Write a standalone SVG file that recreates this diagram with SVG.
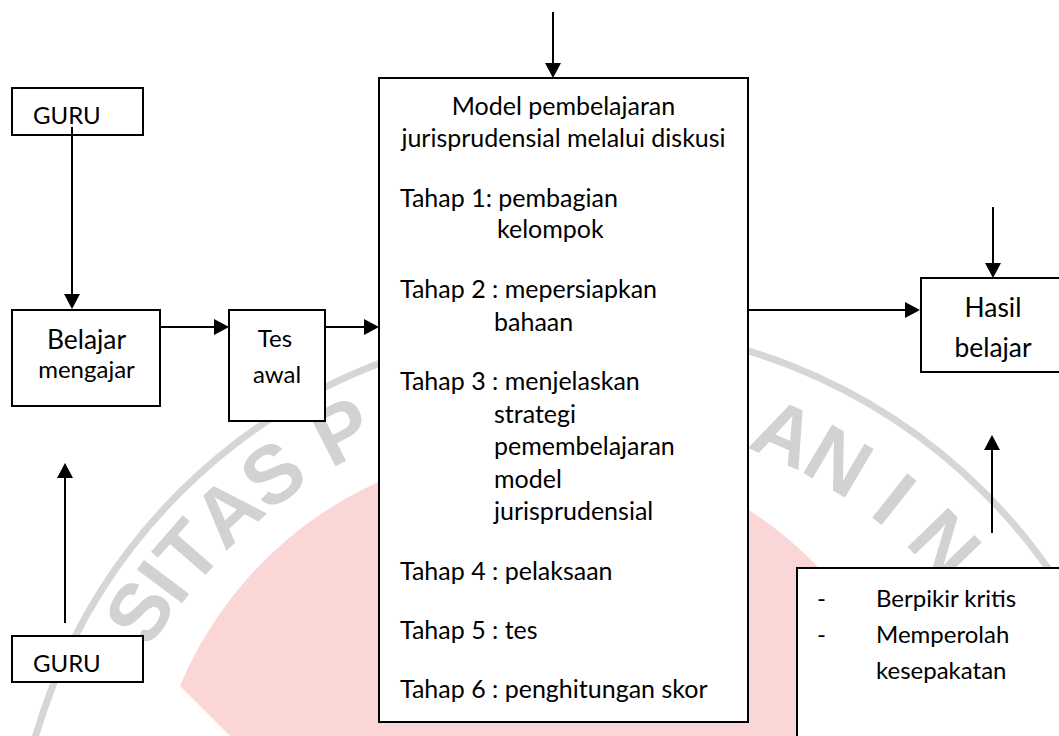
<svg xmlns="http://www.w3.org/2000/svg" width="1059" height="736" viewBox="0 0 1059 736">
<style>
.box{fill:#fff;stroke:#000;stroke-width:2}
.t{font-family:Lato,"Liberation Sans",sans-serif;font-size:24px;fill:#000}
.m{font-size:25px}
.tl{font-size:26.4px}
.c{text-anchor:middle}
.wm{font-family:"Liberation Sans",sans-serif;font-weight:bold;font-size:82px;fill:#d2d2d2;text-anchor:middle}
.cn{stroke:#000;stroke-width:2;fill:none;marker-end:url(#ah)}
</style>
<defs>
<marker id="ah" viewBox="0 0 15 16" markerWidth="15" markerHeight="16" refX="9" refY="8" orient="auto" markerUnits="userSpaceOnUse"><path d="M0,0 L15,8 L0,16 z" fill="#000"/></marker>
</defs>
<rect width="1059" height="736" fill="#fff"/>
<g id="watermark">
<path d="M180,686 A388,388 0 0 1 913,736 L230,736 Z" fill="#fbd6d6"/>
<circle cx="582" cy="895" r="569" fill="none" stroke="#d6d6d6" stroke-width="7"/>
<text class="wm" transform="translate(163.5,626.8) rotate(-57.6)">S</text>
<text class="wm" transform="translate(185.6,598.6) rotate(-53.1)">I</text>
<text class="wm" transform="translate(209.4,570.6) rotate(-48.9)">T</text>
<text class="wm" transform="translate(246.7,532.2) rotate(-42.7)">A</text>
<text class="wm" transform="translate(289.5,496.9) rotate(-36.3)">S</text>
<text class="wm" transform="translate(355.1,456.2) rotate(-27.3)">P</text>
<text class="wm" transform="translate(773.3,459.2) rotate(23.7)">A</text>
<text class="wm" transform="translate(824.3,485.3) rotate(30.6)">N</text>
<text class="wm" transform="translate(877,521.4) rotate(38.3)">I</text>
<text class="wm" transform="translate(924.4,564.3) rotate(46)">N</text>
</g>
<g id="guru-top"><rect class="box" x="12" y="88" width="131" height="47"/><text class="t" x="33" y="124">GURU</text></g>
<g id="guru-bottom"><rect class="box" x="12" y="636" width="131" height="46"/><text class="t" x="33" y="672">GURU</text></g>
<g id="belajar-mengajar"><rect class="box" x="12" y="310" width="148" height="96"/><text class="t tl c" x="86.5" y="349">Belajar</text><text class="t c" x="86.5" y="378">mengajar</text></g>
<g id="tes-awal"><rect class="box" x="229" y="310" width="96" height="111"/><text class="t c" x="275" y="347">Tes</text><text class="t c" x="277" y="383">awal</text></g>
<g id="model"><rect class="box" x="379" y="78" width="369" height="644"/>
<text class="t m c" x="563.5" y="115">Model pembelajaran</text>
<text class="t m c" x="563.5" y="147">jurisprudensial melalui diskusi</text>
<text class="t m" x="400" y="207">Tahap 1: pembagian</text>
<text class="t m" x="497" y="238">kelompok</text>
<text class="t m" x="400" y="298">Tahap 2 : mepersiapkan</text>
<text class="t m" x="494" y="331">bahaan</text>
<text class="t m" x="400" y="390">Tahap 3 : menjelaskan</text>
<text class="t m" x="494" y="423">strategi</text>
<text class="t m" x="494" y="455">pemembelajaran</text>
<text class="t m" x="494" y="488">model</text>
<text class="t m" x="494" y="520">jurisprudensial</text>
<text class="t m" x="400" y="580">Tahap 4 : pelaksaan</text>
<text class="t m" x="400" y="639">Tahap 5 : tes</text>
<text class="t m" x="400" y="698">Tahap 6 : penghitungan skor</text>
</g>
<g id="hasil-belajar"><rect class="box" x="921" y="278" width="200" height="94"/><text class="t tl c" x="993" y="317">Hasil</text><text class="t tl c" x="993" y="357">belajar</text></g>
<g id="indikator"><rect class="box" x="797" y="568" width="300" height="200"/>
<text class="t" x="817" y="607">-</text><text class="t" x="876" y="607">Berpikir kritis</text>
<text class="t" x="817" y="643">-</text><text class="t" x="876" y="643">Memperolah</text>
<text class="t" x="876" y="679">kesepakatan</text>
</g>
<g id="connectors">
<line class="cn" x1="553" y1="12" x2="553" y2="72"/>
<line class="cn" x1="72" y1="127" x2="72" y2="303"/>
<line class="cn" x1="65" y1="623" x2="65" y2="469"/>
<line class="cn" x1="160" y1="327" x2="223" y2="327"/>
<line class="cn" x1="325" y1="327" x2="373" y2="327"/>
<line class="cn" x1="748" y1="310" x2="914" y2="310"/>
<line class="cn" x1="993" y1="207" x2="993" y2="272"/>
<line class="cn" x1="992" y1="533" x2="992" y2="441"/>
</g>
</svg>
